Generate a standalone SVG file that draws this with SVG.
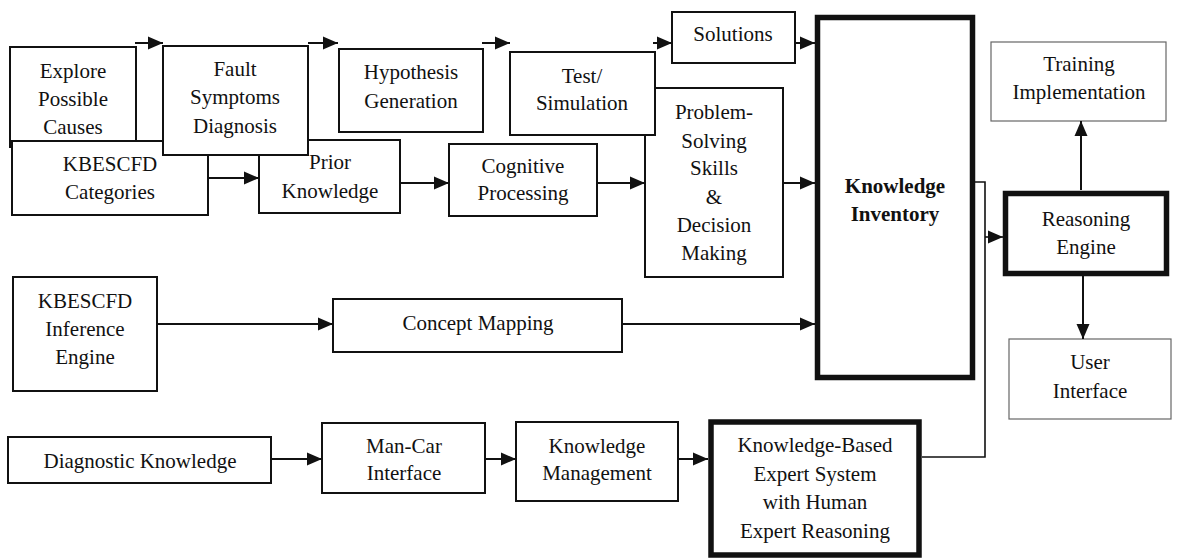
<svg xmlns="http://www.w3.org/2000/svg" width="1177" height="560" viewBox="0 0 1177 560">
  <style>
    .box { fill: #fff; stroke: #111; stroke-width: 2; }
    .thick { fill: #fff; stroke: #111; stroke-width: 5.5; }
    .light { fill: #fff; stroke: #666; stroke-width: 1.2; }
    text { font-family: "Liberation Serif", "Times New Roman", serif; font-size: 21px; fill: #111; text-anchor: middle; }
    .bold { font-weight: bold; }
    .wire { fill: none; stroke: #111; stroke-width: 2; }
    .wire-thin { fill: none; stroke: #111; stroke-width: 1.6; }
  </style>
  <defs>
    <marker id="arrow" markerUnits="userSpaceOnUse" markerWidth="16" markerHeight="14" refX="15" refY="7" orient="auto">
      <path d="M0,0.5 L15,7 L0,13.5 z" fill="#111"/>
    </marker>
  </defs>
  <rect width="1177" height="560" fill="#fff"/>

  <!-- top row, left cluster -->
  <g id="explore">
    <rect class="box" x="10" y="47" width="126" height="100"/>
    <text x="73" y="78">Explore</text>
    <text x="73" y="106">Possible</text>
    <text x="73" y="134">Causes</text>
  </g>
  <g id="kbescfd-categories">
    <rect class="box" x="12" y="141" width="196" height="74"/>
    <text x="110" y="171">KBESCFD</text>
    <text x="110" y="199">Categories</text>
  </g>
  <g id="prior-knowledge">
    <rect class="box" x="259" y="140" width="141" height="73"/>
    <text x="330" y="169">Prior</text>
    <text x="330" y="198">Knowledge</text>
  </g>
  <g id="fault-symptoms">
    <rect class="box" x="163" y="46" width="145" height="109"/>
    <text x="235" y="76">Fault</text>
    <text x="235" y="104">Symptoms</text>
    <text x="235" y="133">Diagnosis</text>
  </g>
  <g id="hypothesis">
    <rect class="box" x="339" y="49" width="144" height="83"/>
    <text x="411" y="79">Hypothesis</text>
    <text x="411" y="108">Generation</text>
  </g>
  <g id="cognitive">
    <rect class="box" x="449" y="144" width="148" height="72"/>
    <text x="523" y="173">Cognitive</text>
    <text x="523" y="200">Processing</text>
  </g>
  <g id="problem-solving">
    <rect class="box" x="645" y="88" width="138" height="189"/>
    <text x="714" y="119">Problem-</text>
    <text x="714" y="148">Solving</text>
    <text x="714" y="175">Skills</text>
    <text x="714" y="204">&amp;</text>
    <text x="714" y="232">Decision</text>
    <text x="714" y="260">Making</text>
  </g>
  <g id="test-simulation">
    <rect class="box" x="510" y="52" width="145" height="83"/>
    <text x="582" y="83">Test/</text>
    <text x="582" y="110">Simulation</text>
  </g>
  <g id="solutions">
    <rect class="box" x="672" y="12" width="123" height="51"/>
    <text x="733" y="41">Solutions</text>
  </g>

  <!-- central store -->
  <g id="knowledge-inventory">
    <rect class="thick" x="817.5" y="17.5" width="155" height="360"/>
    <text class="bold" x="895" y="193">Knowledge</text>
    <text class="bold" x="895" y="221">Inventory</text>
  </g>

  <!-- right column -->
  <g id="training">
    <rect class="light" x="991" y="42" width="175" height="79"/>
    <text x="1079" y="71">Training</text>
    <text x="1079" y="99">Implementation</text>
  </g>
  <g id="reasoning-engine">
    <rect class="thick" x="1005.5" y="193.5" width="161" height="80"/>
    <text x="1086" y="226">Reasoning</text>
    <text x="1086" y="254">Engine</text>
  </g>
  <g id="user-interface">
    <rect class="light" x="1009" y="339" width="162" height="80"/>
    <text x="1090" y="369">User</text>
    <text x="1090" y="398">Interface</text>
  </g>

  <!-- middle row -->
  <g id="inference-engine">
    <rect class="box" x="13" y="277" width="144" height="114"/>
    <text x="85" y="308">KBESCFD</text>
    <text x="85" y="336">Inference</text>
    <text x="85" y="364">Engine</text>
  </g>
  <g id="concept-mapping">
    <rect class="box" x="333" y="299" width="289" height="53"/>
    <text x="478" y="330">Concept Mapping</text>
  </g>

  <!-- bottom row -->
  <g id="diagnostic-knowledge">
    <rect class="box" x="8" y="437" width="263" height="46"/>
    <text x="140" y="468">Diagnostic Knowledge</text>
  </g>
  <g id="man-car">
    <rect class="box" x="322" y="423" width="163" height="70"/>
    <text x="404" y="453">Man-Car</text>
    <text x="404" y="480">Interface</text>
  </g>
  <g id="knowledge-management">
    <rect class="box" x="516" y="422" width="162" height="79"/>
    <text x="597" y="453">Knowledge</text>
    <text x="597" y="480">Management</text>
  </g>
  <g id="kbes">
    <rect class="thick" x="711" y="422" width="208" height="133"/>
    <text x="815" y="452">Knowledge-Based</text>
    <text x="815" y="481">Expert System</text>
    <text x="815" y="509">with Human</text>
    <text x="815" y="538">Expert Reasoning</text>
  </g>

  <!-- connectors -->
  <g id="connectors">
    <line class="wire" x1="135" y1="43" x2="163" y2="43" marker-end="url(#arrow)"/>
    <line class="wire" x1="308" y1="43" x2="338" y2="43" marker-end="url(#arrow)"/>
    <line class="wire" x1="482" y1="43" x2="510" y2="43" marker-end="url(#arrow)"/>
    <line class="wire" x1="653" y1="43" x2="672" y2="43" marker-end="url(#arrow)"/>
    <line class="wire" x1="795" y1="43" x2="815" y2="43" marker-end="url(#arrow)"/>

    <line class="wire" x1="208" y1="178" x2="259" y2="178" marker-end="url(#arrow)"/>
    <line class="wire" x1="400" y1="183" x2="449" y2="183" marker-end="url(#arrow)"/>
    <line class="wire" x1="597" y1="183" x2="645" y2="183" marker-end="url(#arrow)"/>
    <line class="wire" x1="783" y1="183" x2="815" y2="183" marker-end="url(#arrow)"/>

    <line class="wire" x1="157" y1="324" x2="333" y2="324" marker-end="url(#arrow)"/>
    <line class="wire" x1="622" y1="324" x2="815" y2="324" marker-end="url(#arrow)"/>

    <line class="wire" x1="271" y1="459" x2="322" y2="459" marker-end="url(#arrow)"/>
    <line class="wire" x1="485" y1="459" x2="516" y2="459" marker-end="url(#arrow)"/>
    <line class="wire" x1="678" y1="459" x2="708" y2="459" marker-end="url(#arrow)"/>

    <polyline class="wire-thin" points="975,182 985,182 985,457 922,457"/>
    <line class="wire-thin" x1="985" y1="237" x2="1003" y2="237" marker-end="url(#arrow)"/>
    <line class="wire" x1="1081" y1="190" x2="1081" y2="121" marker-end="url(#arrow)"/>
    <line class="wire" x1="1083" y1="276" x2="1083" y2="339" marker-end="url(#arrow)"/>
  </g>
</svg>
